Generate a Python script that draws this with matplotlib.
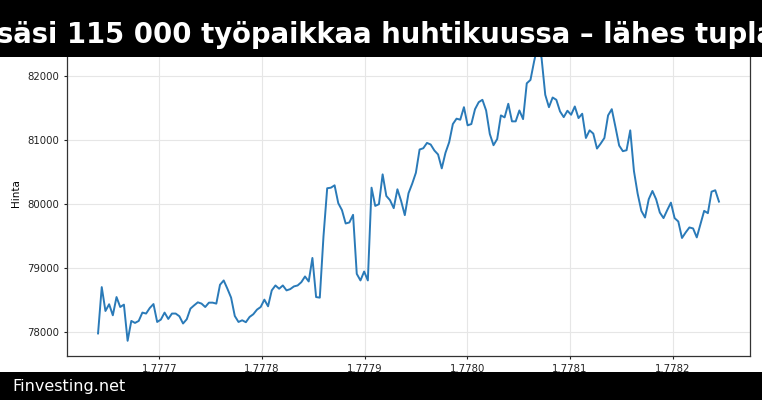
import numpy as np
import matplotlib
matplotlib.use("Agg")
import matplotlib.pyplot as plt
from matplotlib.patches import Rectangle

# ---- data ----
start_ts = 1777640400          # unix seconds of first hourly sample
step_s = 3600                  # hourly
prices = [
    77985, 78707, 78335, 78440, 78268, 78552, 78397, 78434, 77870, 78180,
    78149, 78180, 78310, 78295, 78382, 78443, 78164, 78201, 78310, 78211,
    78295, 78295, 78253, 78140, 78206, 78372, 78423, 78470, 78450, 78397,
    78465, 78465, 78450, 78744, 78811, 78682, 78543, 78257, 78164, 78190,
    78160, 78242, 78284, 78356, 78397, 78512, 78408, 78656, 78733, 78682,
    78733, 78656, 78676, 78718, 78733, 78784, 78873, 78795, 79162, 78552,
    78543, 79500, 80248, 80257, 80294, 80015, 79907, 79699, 79715, 79834,
    78914, 78811, 78950, 78811, 80257, 79973, 80000, 80465, 80128, 80062,
    79938, 80232, 80051, 79829, 80170, 80319, 80490, 80852, 80872, 80955,
    80930, 80837, 80775, 80558, 80800, 80965, 81249, 81333, 81317, 81512,
    81229, 81249, 81481, 81590, 81627, 81461, 81094, 80919, 81016, 81384,
    81353, 81565, 81291, 81291, 81461, 81326, 81884, 81937, 82230, 82480,
    82280, 81705, 81512, 81663, 81627, 81446, 81357, 81457, 81394, 81523,
    81342, 81410, 81032, 81151, 81100, 80867, 80945, 81032, 81384, 81481,
    81202, 80914, 80826, 80841, 81151, 80516, 80164, 79896, 79792, 80077,
    80206, 80077, 79870, 79783, 79907, 80024, 79783, 79730, 79473, 79560,
    79637, 79622, 79482, 79690, 79896, 79860, 80195, 80217, 80040,
]
times = start_ts + step_s * np.arange(len(prices))

title_text = "säsi 115 000 työpaikkaa huhtikuussa – lähes tupla"
footer_text = "Finvesting.net"
ylabel_text = "Hinta"

# ---- figure ----
W, H = 762, 400
fig = plt.figure(figsize=(W / 100, H / 100), dpi=100)
fig.patch.set_facecolor("white")

ax = fig.add_axes([67 / W, 44.4 / H, (750 - 67) / W, 325.3 / H])
ax.plot(times, prices, color="#2a7ab8", linewidth=1.4)
ax.grid(True, color="#e6e6e6", linewidth=0.8)
ax.set_axisbelow(True)
ax.set_ylabel(ylabel_text, fontsize=7.5)
ax.tick_params(labelsize=7.3, length=2.4, width=0.8, colors="#222222")
for s in ax.spines.values():
    s.set_color("#333333")
    s.set_linewidth(0.9)

# title bar and footer bar drawn over everything
fig.patches.append(Rectangle((0, 1 - 57 / H), 1, 57 / H, transform=fig.transFigure,
                             facecolor="black", edgecolor="none", zorder=10))
fig.patches.append(Rectangle((0, 0), 1, 28.3 / H, transform=fig.transFigure,
                             facecolor="black", edgecolor="none", zorder=10))
fig.text(-3 / W, 1 - 42.7 / H, title_text, color="white", fontsize=19.8,
         fontweight="bold", ha="left", va="baseline", zorder=11)
fig.text(12 / W, 1 - 391 / H, footer_text, color="white", fontsize=11.5,
         ha="left", va="baseline", zorder=11)

fig.savefig("out.png", dpi=100)
